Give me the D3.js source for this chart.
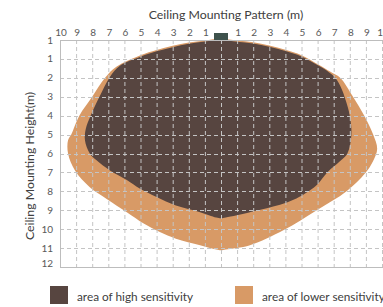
<!DOCTYPE html>
<html><head><meta charset="utf-8">
<script src="https://cdn.jsdelivr.net/npm/d3@7"></script>
<style>html,body{margin:0;padding:0;background:#fff;overflow:hidden}</style>
</head><body>
<svg id="chart" width="383" height="307"></svg>
<script>
// ---- data ----
const xTicks = [-10,-9,-8,-7,-6,-5,-4,-3,-2,-1,0,1,2,3,4,5,6,7,8,9,10];
const xTickLabels = ["10","9","8","7","6","5","4","3","2","1","","1","2","3","4","5","6","7","8","9","10"];
const yTicks = [0,1,2,3,4,5,6,7,8,9,10,11,12];
const yTickLabels = ["1","1","2","3","4","5","6","7","8","9","10","11","12"];
const highArea = [[0,0],[1,0.09],[2,0.19],[3,0.36],[4,0.58],[5,0.87],[6.1,1.38],[6.7,1.7],[7.1,2.0],[7.5,2.6],[7.75,3.2],[8.0,4.0],[8.1,5.0],[7.85,6.0],[7.4,6.4],[6.6,7.0],[5.9,7.7],[4.5,8.45],[2.85,8.9],[1.8,9.1],[0.3,9.38],[0,9.42],[-0.3,9.38],[-1.3,9.1],[-2.8,8.75],[-4.0,8.3],[-5.05,7.85],[-5.85,7.4],[-6.9,6.9],[-7.75,6.35],[-8.15,6.0],[-8.45,5.3],[-8.4,4.7],[-8.1,4.0],[-7.55,3.0],[-6.9,1.95],[-6.3,1.37],[-5,0.88],[-4,0.6],[-3,0.38],[-2,0.2],[-1,0.08]];
const lowerArea = [[0,-0.07],[1,0.02],[2,0.12],[3,0.29],[4,0.51],[5,0.8],[6.1,1.32],[6.8,1.68],[7.4,2.0],[8.2,3.0],[8.9,4.0],[9.45,5.0],[9.7,5.75],[9.45,6.4],[8.95,7.05],[7.8,8.0],[5.95,9.0],[3.9,10.05],[1.8,10.85],[0.3,11.08],[0,11.12],[-0.3,11.08],[-1.3,10.85],[-2.8,10.5],[-3.8,10.15],[-4.8,9.7],[-5.85,9.1],[-7.1,8.4],[-8.15,7.78],[-9.07,6.9],[-9.5,6.0],[-9.5,5.3],[-9.3,5.0],[-8.8,4.0],[-8.0,3.0],[-7.2,2.0],[-6.5,1.42],[-5,0.81],[-4,0.53],[-3,0.31],[-2,0.13],[-1,0.02]];
const legendLabels = ["area of high sensitivity","area of lower sensitivity"];
const colors = {high:"#574540", lower:"#d89a66", sensor:"#3e524c", grid:"#c4c4c4", axis:"#bdbdbd", text:"#595959"};

// ---- layout ----
const svg = d3.select("#chart");
const font = "Lato, 'Open Sans', sans-serif";
const x = d3.scaleLinear().domain([-10,10]).range([60,382]);
const y = d3.scaleLinear().domain([0,12]).range([40,267]);

const line = d3.line().x(d=>x(d[0])).y(d=>y(d[1])).curve(d3.curveCatmullRomClosed.alpha(0.5));

svg.append("path").attr("d", line(lowerArea)).attr("fill", colors.lower);
svg.append("path").attr("d", line(highArea)).attr("fill", colors.high);

// grid
const g = svg.append("g");
g.selectAll("line.v").data(xTicks.filter(t=>t>-10)).enter().append("line")
  .attr("x1",d=>x(d)+0.5).attr("x2",d=>x(d)+0.5).attr("y1",y(0)).attr("y2",y(12))
  .attr("stroke",colors.grid).attr("stroke-dasharray","4,3");
g.selectAll("line.h").data(yTicks.filter(t=>t>0&&t<12)).enter().append("line")
  .attr("x1",x(-10)).attr("x2",383).attr("y1",d=>Math.round(y(d))+0.5).attr("y2",d=>Math.round(y(d))+0.5)
  .attr("stroke",colors.grid).attr("stroke-dasharray","4,3");

// border axes
svg.append("line").attr("x1",x(-10)).attr("x2",383).attr("y1",y(0)+0.5).attr("y2",y(0)+0.5).attr("stroke",colors.axis);
svg.append("line").attr("x1",x(-10)).attr("x2",383).attr("y1",y(12)+0.5).attr("y2",y(12)+0.5).attr("stroke",colors.axis);
svg.append("line").attr("x1",x(-10)+0.5).attr("x2",x(-10)+0.5).attr("y1",y(0)).attr("y2",y(12)).attr("stroke",colors.axis);

// sensor
svg.append("rect").attr("x",x(0)-7).attr("y",y(0)-7).attr("width",14).attr("height",7).attr("fill",colors.sensor);

// tick labels
svg.selectAll("text.xt").data(xTicks).enter().append("text")
  .attr("x",d=>x(d)+1).attr("y",36).attr("text-anchor","middle")
  .attr("font-family",font).attr("font-size",10).attr("fill",colors.text)
  .text((d,i)=>xTickLabels[i]);
svg.selectAll("text.yt").data(yTicks).enter().append("text")
  .attr("x",53).attr("y",(d,i)=>y(d)+3.5-(d===12?4:0)).attr("text-anchor","end")
  .attr("font-family",font).attr("font-size",10).attr("fill",colors.text)
  .text((d,i)=>yTickLabels[i]);

// titles
svg.append("text").attr("x",226).attr("y",19).attr("text-anchor","middle")
  .attr("font-family",font).attr("font-size",12.3).attr("fill","#404040")
  .text("Ceiling Mounting Pattern (m)");
svg.append("text").attr("transform","translate(34,166) rotate(-90)").attr("text-anchor","middle")
  .attr("font-family",font).attr("font-size",12.3).attr("fill","#404040")
  .text("Ceiling Mounting Height(m)");

// legend
const leg = [{c:colors.high,x:50,label:legendLabels[0]},{c:colors.lower,x:235,label:legendLabels[1]}];
leg.forEach(l=>{
  svg.append("rect").attr("x",l.x).attr("y",286).attr("width",18).attr("height",18).attr("fill",l.c);
  svg.append("text").attr("x",l.x+27).attr("y",300.5).attr("font-family",font).attr("font-size",11.8)
    .attr("fill","#404040").text(l.label);
});
</script>
</body></html>
